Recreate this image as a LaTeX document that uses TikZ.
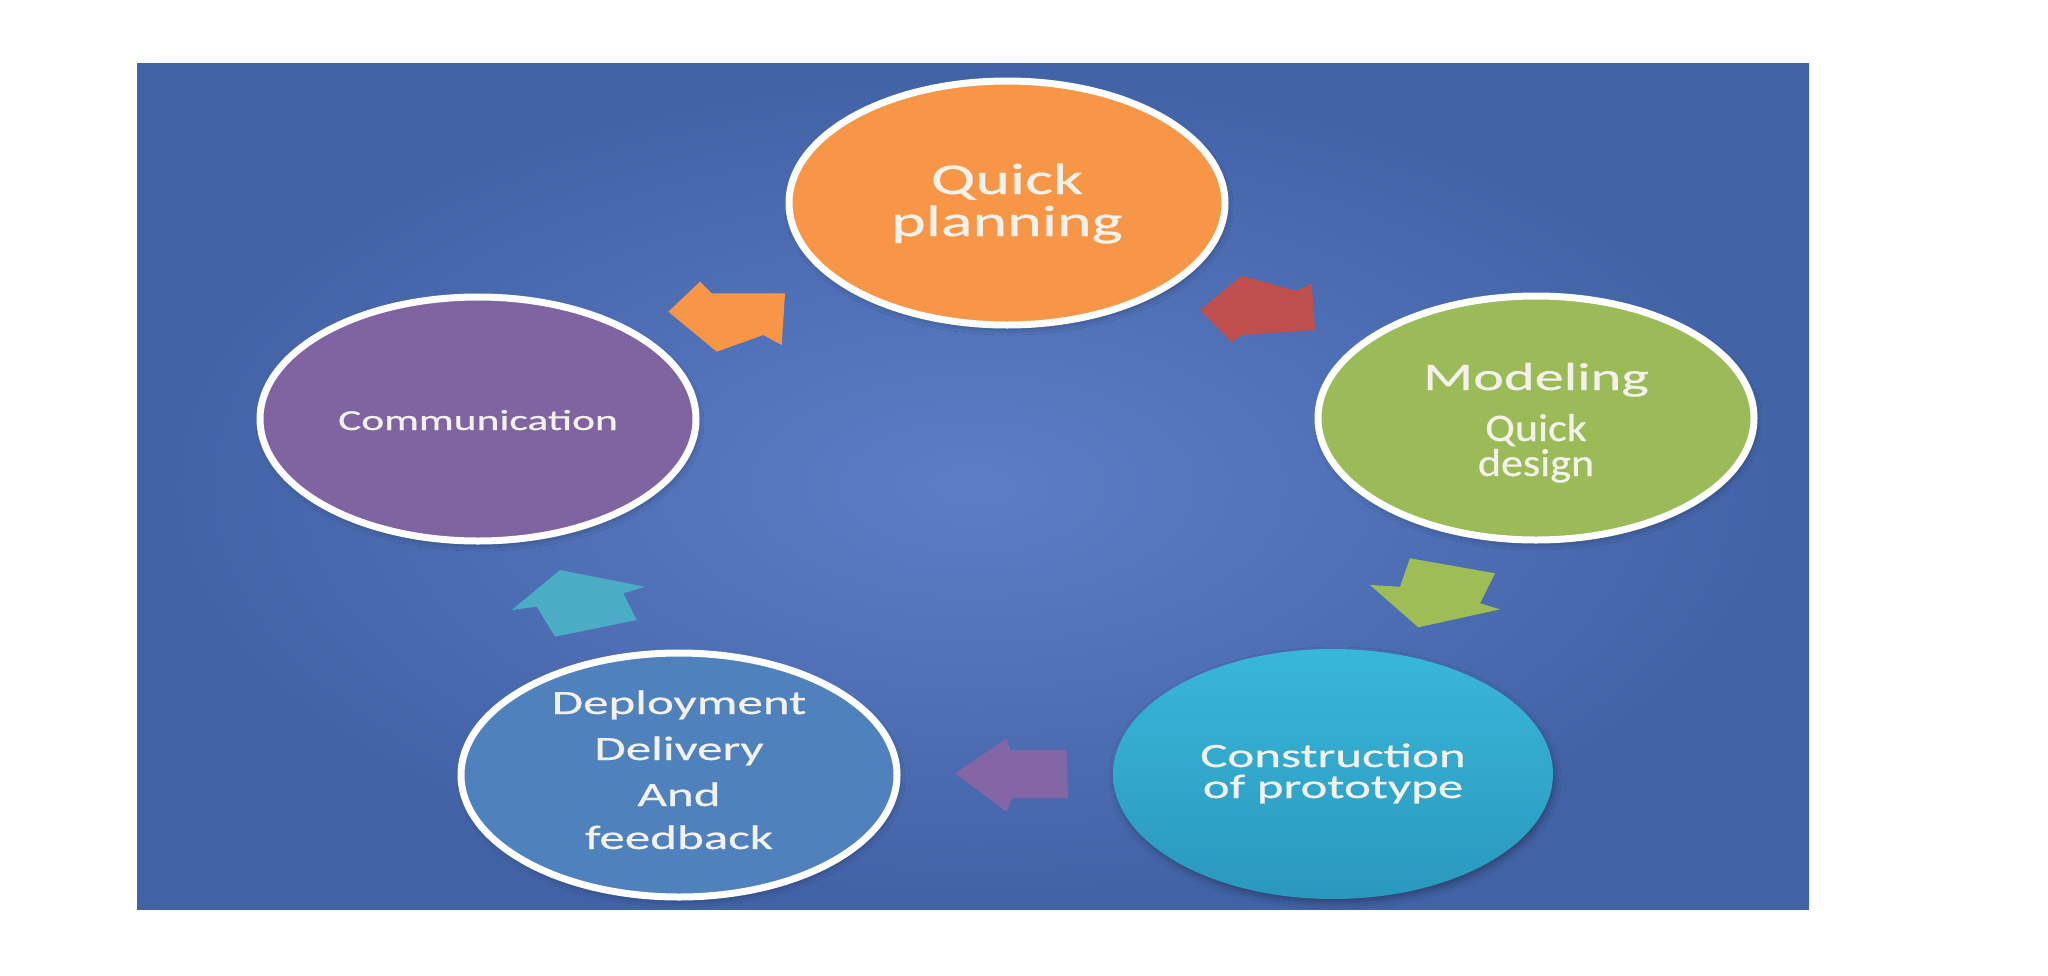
\documentclass[tikz,border=0pt]{standalone}
\usepackage{fontspec}
\usetikzlibrary{shapes.geometric,shadows.blur}
\newfontfamily\calfont[FakeStretch=1.5,FakeBold=0.6]{Carlito}
\newfontfamily\calnarrow[FakeStretch=1.13,FakeBold=0.6]{Carlito}
\definecolor{bgin}{HTML}{5C7EC6}
\definecolor{bgout}{HTML}{4262A6}
\definecolor{qpc}{HTML}{F79646}
\definecolor{modc}{HTML}{9BBB59}
\definecolor{comc}{HTML}{8064A2}
\definecolor{contop}{HTML}{38B7DA}
\definecolor{conbot}{HTML}{2A98BD}
\definecolor{depc}{HTML}{4F81BD}
\definecolor{redc}{HTML}{C0504D}
\definecolor{grnc}{HTML}{9EBD55}
\definecolor{purc}{HTML}{8466A6}
\definecolor{cyac}{HTML}{4BACC6}
\definecolor{txtc}{HTML}{F3F1EA}
\begin{document}
\begin{tikzpicture}[x=1pt,y=-1pt,
  phase/.style={ellipse, draw=white, line width=7pt, minimum width=436pt,
    minimum height=244pt, inner sep=0pt,
    blur shadow={shadow xshift=2pt, shadow yshift=-4pt, shadow blur radius=6pt, shadow opacity=30}},
  lbl/.style={anchor=base, text=txtc, inner sep=0pt},
  bigf/.style={font=\calfont\fontsize{44}{44}\selectfont},
  modf/.style={font=\calfont\fontsize{39}{39}\selectfont},
  mods/.style={font=\calnarrow\fontsize{39}{39}\selectfont},
  comf/.style={font=\calfont\fontsize{29}{29}\selectfont},
  midf/.style={font=\calfont\fontsize{34}{34}\selectfont}]
\useasboundingbox (0,0) rectangle (2048,975);
\fill[white] (0,0) rectangle (2048,975);
\shade[inner color=bgin, outer color=bgout] (137,63) rectangle (1809,909);

% block arrows
\fill[qpc] (668.3,311.7) -- (700,281.7) -- (711.7,293.3) -- (785,293.3) -- (781.7,345) -- (763.3,335) -- (716.7,351.7) -- cycle;
\fill[redc] (1200,310) -- (1241.7,275.7) -- (1296.7,291) -- (1311.7,283.3) -- (1315,330) -- (1241.7,335) -- (1231.7,342.3) -- cycle;
\fill[grnc] (1370,585) -- (1400,586.7) -- (1410,558.3) -- (1495,573.3) -- (1480,603.3) -- (1500,609.3) -- (1418.3,627.3) -- cycle;
\fill[purc] (955,773.3) -- (1006.7,738.3) -- (1010,750) -- (1066.7,750) -- (1068.3,798.3) -- (1011.7,798.3) -- (1006.7,811.7) -- cycle;
\fill[cyac] (511.7,610) -- (536.7,606.7) -- (555,636.7) -- (636.7,620) -- (623.3,593.3) -- (645,586.7) -- (560,570) -- cycle;

% phases
\node[phase, fill=qpc] (qp) at (1007,203) {};
\node[phase, fill=modc] (mod) at (1536,418) {};
\node[phase, fill=comc] (com) at (478,419) {};
\node[phase, draw=none, minimum width=440pt, minimum height=250pt, top color=contop, bottom color=conbot] (con) at (1333,774) {};
\node[phase, fill=depc] (dep) at (679,775) {};

% labels
\node[lbl, bigf] (qp1) at (1007,194) {Quick};
\node[lbl, bigf] (qp2) at (1007,236) {planning};
\node[lbl, modf] (mod1) at (1536,390) {Modeling};
\node[lbl, mods] (mod2) at (1536,441) {Quick};
\node[lbl, mods] (mod3) at (1536,476) {design};
\node[lbl, comf] (com1) at (478,430) {Communication};
\node[lbl, midf] (con1) at (1333,767) {Construction};
\node[lbl, midf] (con2) at (1333,798) {of prototype};
\node[lbl, midf] (dep1) at (679,714) {Deployment};
\node[lbl, midf] (dep2) at (679,760) {Delivery};
\node[lbl, midf] (dep3) at (679,806) {And};
\node[lbl, midf] (dep4) at (679,849) {feedback};
\end{tikzpicture}
\end{document}
